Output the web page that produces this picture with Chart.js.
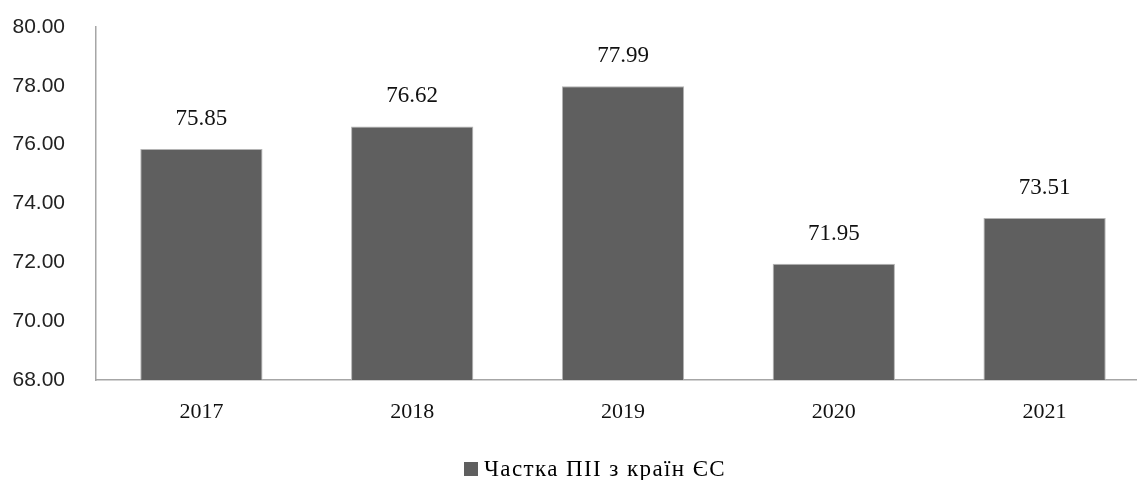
<!doctype html>
<html lang="uk">
<head>
    <meta charset="utf-8">
    <title>Частка ПІІ з країн ЄС</title>
    <script src="https://cdn.jsdelivr.net/npm/chart.js"></script>
    <style>
        html, body {
            margin: 0;
            padding: 0;
            background: #ffffff;
        }

        .wrap {
            position: relative;
            width: 1137px;
            height: 480px;
            overflow: hidden;
        }

        .legend {
            position: absolute;
            left: 464px;
            top: 456px;
            font-family: "Liberation Serif", "Times New Roman", serif;
            font-size: 23px;
            letter-spacing: 1.4px;
            color: #000;
            white-space: nowrap;
            line-height: 26px;
        }

        .legend .box {
            display: inline-block;
            width: 14px;
            height: 14px;
            margin-right: 6px;
            vertical-align: 0px;
        }
    </style>
</head>
<body>
    <div class="wrap">
        <canvas id="fdiChart" width="1150" height="480"></canvas>
        <div class="legend" id="legend"></div>
    </div>

    <script>
        // Chart data
        const years = ['2017', '2018', '2019', '2020', '2021'];
        const euShare = [75.85, 76.62, 77.99, 71.95, 73.51];
        const seriesName = 'Частка ПІІ з країн ЄС';
        const yTicks = [68, 70, 72, 74, 76, 78, 80];

        const barColor = '#5f5f5f';
        const serif = '"Liberation Serif", "Times New Roman", serif';
        const sans = '"Liberation Sans", Arial, sans-serif';

        // Value labels above each bar
        const valueLabels = {
            id: 'valueLabels',
            afterDatasetsDraw(chart) {
                const ctx = chart.ctx;
                const meta = chart.getDatasetMeta(0);
                const data = chart.data.datasets[0].data;
                ctx.save();
                ctx.font = '23px ' + serif;
                ctx.fillStyle = '#111';
                ctx.textAlign = 'center';
                ctx.textBaseline = 'middle';
                meta.data.forEach((bar, i) => {
                    ctx.fillText(data[i].toFixed(2), bar.x, bar.y - 30);
                });
                ctx.restore();
            }
        };

        const ctx = document.getElementById('fdiChart').getContext('2d');
        const chart = new Chart(ctx, {
            type: 'bar',
            data: {
                labels: years,
                datasets: [{
                    label: seriesName,
                    data: euShare,
                    backgroundColor: barColor,
                    borderColor: '#b4b4b4',
                    borderWidth: 1,
                    barPercentage: 0.58,
                    categoryPercentage: 1
                }]
            },
            options: {
                responsive: false,
                animation: false,
                layout: {
                    padding: { top: 27, left: 0, right: 0, bottom: 0 }
                },
                plugins: {
                    legend: { display: false },
                    tooltip: { enabled: false }
                },
                scales: {
                    x: {
                        grid: { display: false },
                        border: { display: true, color: '#a6a6a6', width: 1.5 },
                        ticks: {
                            color: '#111',
                            padding: 11,
                            font: { family: serif, size: 22 }
                        },
                        afterFit(scale) {
                            scale.height = 100;
                        }
                    },
                    y: {
                        min: yTicks[0],
                        max: yTicks[yTicks.length - 1],
                        grid: { display: false },
                        border: { display: true, color: '#a6a6a6', width: 1.5 },
                        afterBuildTicks(scale) {
                            scale.ticks = yTicks.map(v => ({ value: v }));
                        },
                        ticks: {
                            color: '#222',
                            padding: 23,
                            font: { family: sans, size: 21 },
                            callback: v => Number(v).toFixed(2)
                        },
                        afterFit(scale) {
                            scale.width = 96;
                            // top/bottom labels fit inside the layout padding
                            scale.paddingTop = 0;
                            scale.paddingBottom = 0;
                        }
                    }
                }
            },
            plugins: [valueLabels]
        });

        // Legend
        const legend = document.getElementById('legend');
        legend.innerHTML = '<span class="box" style="background:' + barColor + '"></span>' + seriesName;
    </script>
</body>
</html>
